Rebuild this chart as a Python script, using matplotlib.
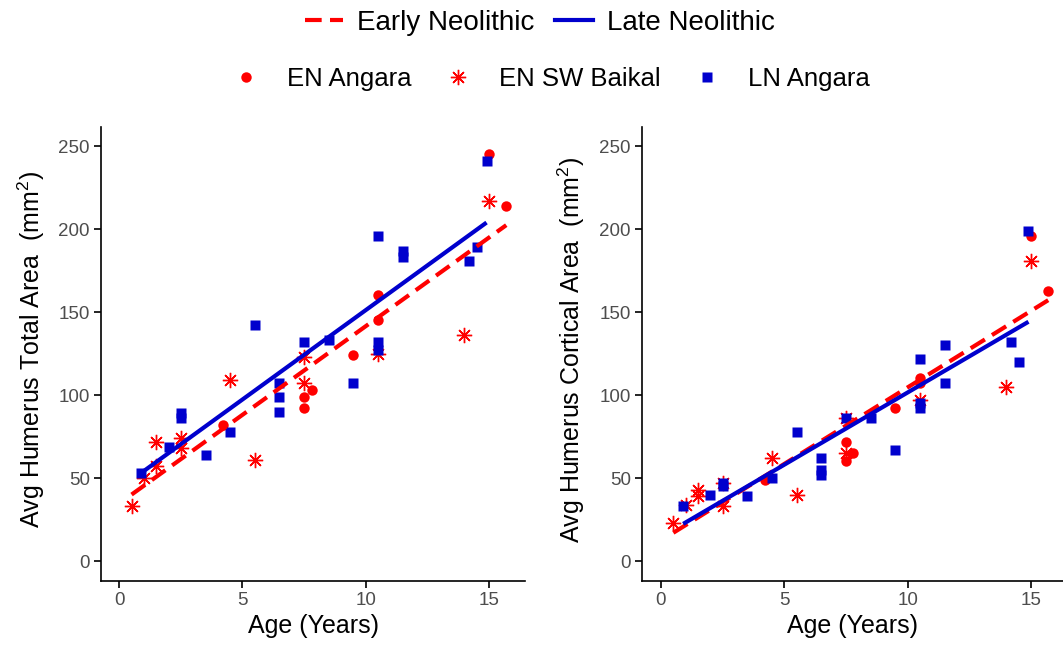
import numpy as np
import matplotlib
matplotlib.use('Agg')
import matplotlib.pyplot as plt
from matplotlib.lines import Line2D

plt.rcParams['font.family'] = ['Liberation Sans', 'DejaVu Sans']
plt.rcParams['mathtext.fontset'] = 'custom'
plt.rcParams['mathtext.rm'] = 'Liberation Sans'
plt.rcParams['mathtext.it'] = 'Liberation Sans'

# ---- data (age in years, area in mm^2) ----
# EN Angara (circles)
en_ang_age = [15.0, 15.7, 10.5, 10.5, 9.5, 7.8, 7.5, 7.5, 4.2]
en_ang_total = [245, 214, 160, 145, 124, 103, 99, 92, 82]
en_ang_cort = [196, 163, 110, 107, 92, 65, 72, 60, 49]

# EN SW Baikal (asterisks)
en_sw_age = [0.5, 1.0, 1.5, 1.5, 2.5, 2.5, 4.5, 5.5, 7.5, 7.5, 10.5, 14.0, 15.0]
en_sw_total = [33, 50, 72, 57, 74, 68, 109, 61, 123, 107, 125, 136, 217]
en_sw_cort = [23, 34, 43, 39, 47, 33, 62, 40, 86, 65, 97, 105, 181]

# LN Angara (squares)
ln_age = [0.9, 2.0, 2.5, 2.5, 3.5, 4.5, 5.5, 6.5, 6.5, 6.5, 7.5, 8.5, 9.5,
          10.5, 10.5, 10.5, 11.5, 11.5, 14.2, 14.5, 14.9]
ln_total = [53, 69, 89, 86, 64, 78, 142, 107, 99, 90, 132, 133, 107,
            196, 132, 127, 187, 183, 181, 189, 241]
ln_cort = [33, 40, 47, 45, 39, 50, 78, 62, 55, 52, 86, 86, 67,
           122, 95, 92, 130, 107, 132, 120, 199]

RED = '#FF0000'
BLUE = '#0000CD'
ASTER = (8, 2, 0)
DASH = (0, (4, 2))

fig = plt.figure(figsize=(10.63, 6.46), dpi=100)
ax1 = fig.add_axes([101/1063, 65/646, 424/1063, 454/646])
ax2 = fig.add_axes([642/1063, 65/646, 421/1063, 454/646])


def fit_line(ax, x, y, **kw):
    x = np.asarray(x, float)
    y = np.asarray(y, float)
    b, a = np.polyfit(x, y, 1)
    xs = np.array([x.min(), x.max()])
    ax.plot(xs, a + b * xs, **kw)


def panel(ax, ang_y, sw_y, ln_y, ylabel, xlim, labx):
    ax.plot(en_ang_age, ang_y, 'o', color=RED, ms=7.5, mec='none', zorder=3)
    ax.plot(en_sw_age, sw_y, ls='none', marker=ASTER, ms=11, mec=RED, mew=1.0, zorder=3)
    ax.plot(ln_age, ln_y, 's', color=BLUE, ms=7, mec='none', zorder=3)
    fit_line(ax, en_ang_age + en_sw_age, list(ang_y) + list(sw_y),
             color=RED, lw=3, ls=DASH, zorder=4)
    fit_line(ax, ln_age, ln_y, color=BLUE, lw=3, zorder=4, solid_capstyle='butt')

    ax.set_xlim(*xlim)
    ax.set_ylim(-12, 261.5)
    ax.set_xticks([0, 5, 10, 15])
    ax.set_yticks([0, 50, 100, 150, 200, 250])
    for s in ['top', 'right']:
        ax.spines[s].set_visible(False)
    for s in ['left', 'bottom']:
        ax.spines[s].set_linewidth(1.2)
    ax.tick_params(direction='out', length=5, width=1.2, labelsize=13.5,
                   labelcolor='#4D4D4D', pad=3)
    ax.set_xlabel('Age (Years)', fontsize=18)
    ax.set_ylabel(ylabel, fontsize=18)
    ax.yaxis.set_label_coords(labx, 0.51)
    ax.xaxis.set_label_coords(0.5, -0.072)


panel(ax1, en_ang_total, en_sw_total, ln_total,
      'Avg Humerus Total Area  (mm$^2$)', (-0.74, 16.46), -0.128)
panel(ax2, en_ang_cort, en_sw_cort, ln_cort,
      'Avg Humerus Cortical Area  (mm$^2$)', (-0.77, 16.3), -0.13)

# legends
h_lines = [Line2D([], [], color=RED, lw=3, ls=DASH),
           Line2D([], [], color=BLUE, lw=3)]
fig.legend(h_lines, ['Early Neolithic', 'Late Neolithic'], loc='center',
           bbox_to_anchor=(0.508, 1 - 23/646), ncol=2, frameon=False,
           fontsize=20, handlelength=1.37, handletextpad=0.5, columnspacing=0.75)

h_pts = [Line2D([], [], ls='none', marker='o', color=RED, ms=7.5, mec='none'),
         Line2D([], [], ls='none', marker=ASTER, ms=11, mec=RED, mew=1.0),
         Line2D([], [], ls='none', marker='s', color=BLUE, ms=7, mec='none')]
fig.legend(h_pts, ['EN Angara', 'EN SW Baikal', 'LN Angara'], loc='center',
           bbox_to_anchor=(0.52, 1 - 79/646), ncol=3, frameon=False,
           fontsize=18.5, handlelength=0.8, handletextpad=1.2, columnspacing=1.39)

fig.savefig('out.png', dpi=100, facecolor='white')
